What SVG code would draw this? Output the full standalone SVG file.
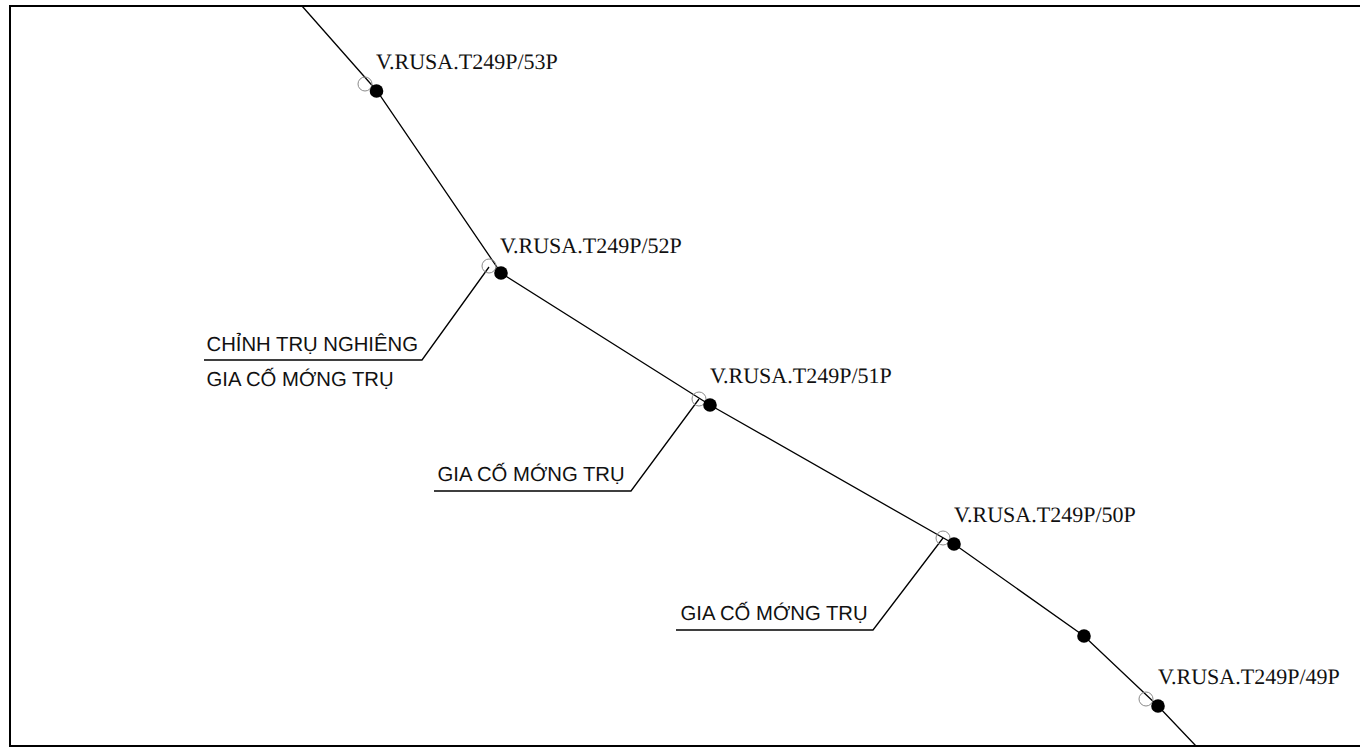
<svg xmlns="http://www.w3.org/2000/svg" width="1360" height="747" viewBox="0 0 1360 747">
<style>
.line{fill:none;stroke:#000;stroke-width:1.3}
.hollow{fill:none;stroke:#8a8a8a;stroke-width:1}
.dot{fill:#000}
.pole{font-family:"Liberation Serif",serif;font-size:22px;fill:#111;text-rendering:geometricPrecision}
.note{font-family:"Liberation Sans",sans-serif;font-size:20.3px;fill:#111;text-rendering:geometricPrecision}
</style>
<rect width="1360" height="747" fill="#fff"/>
<rect x="10" y="6" width="1351" height="740" fill="none" stroke="#000" stroke-width="2"/>
<g id="connectors">
<polyline class="line" points="302,6 377,91 501,273 710,405 954,544 1084,636 1158,706 1196,746"/>
<polyline class="line" points="489,267 422,360 204,360"/>
<polyline class="line" points="699,399 631,491 434,491"/>
<polyline class="line" points="943,538 873,630 676,630"/>
</g>
<g id="pole-53"><circle class="hollow" cx="365" cy="84" r="7"/><circle class="dot" cx="376.500" cy="91" r="6.800"/><text class="pole" x="376" y="69">V.RUSA.T249P/53P</text></g>
<g id="pole-52"><circle class="hollow" cx="489" cy="266" r="7"/><circle class="dot" cx="501" cy="273" r="6.800"/><text class="pole" x="500" y="253">V.RUSA.T249P/52P</text></g>
<g id="pole-51"><circle class="hollow" cx="699" cy="399" r="7"/><circle class="dot" cx="710" cy="405" r="6.800"/><text class="pole" x="710" y="383">V.RUSA.T249P/51P</text></g>
<g id="pole-50"><circle class="hollow" cx="943" cy="538" r="7"/><circle class="dot" cx="954" cy="544" r="6.800"/><text class="pole" x="954" y="522">V.RUSA.T249P/50P</text></g>
<g id="pole-mid"><circle class="dot" cx="1084" cy="636" r="6.800"/></g>
<g id="pole-49"><circle class="hollow" cx="1146" cy="699" r="7"/><circle class="dot" cx="1158" cy="706" r="6.800"/><text class="pole" x="1158" y="684">V.RUSA.T249P/49P</text></g>
<g id="note-52"><text class="note" x="206.500" y="350.500">CHỈNH TRỤ NGHIÊNG</text><text class="note" x="206.500" y="385.500">GIA CỐ MỚNG TRỤ</text></g>
<g id="note-51"><text class="note" x="437.500" y="481">GIA CỐ MỚNG TRỤ</text></g>
<g id="note-50"><text class="note" x="680.500" y="620">GIA CỐ MỚNG TRỤ</text></g>
</svg>
